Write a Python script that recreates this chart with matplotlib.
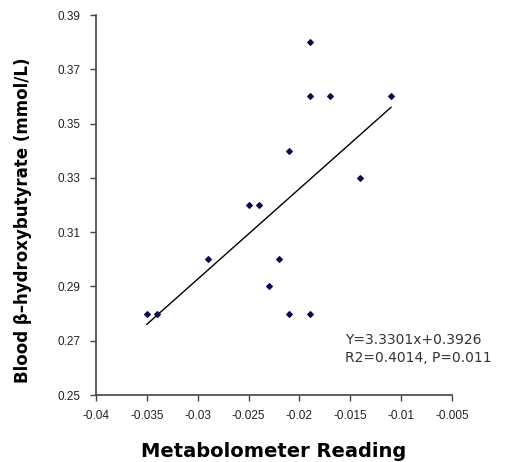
import numpy as np
import matplotlib
matplotlib.use("Agg")
import matplotlib.pyplot as plt

# readings (x) and blood beta-hydroxybutyrate (y)
meter = [-0.035, -0.034, -0.029, -0.025, -0.024, -0.023, -0.022, -0.021,
         -0.021, -0.019, -0.019, -0.019, -0.017, -0.014, -0.011]
bhb = [0.28, 0.28, 0.30, 0.32, 0.32, 0.29, 0.30, 0.34,
       0.28, 0.38, 0.36, 0.28, 0.36, 0.33, 0.36]
slope, intercept = 3.3301, 0.3926
xticks = [-0.04, -0.035, -0.03, -0.025, -0.02, -0.015, -0.01, -0.005]
yticks = [0.25, 0.27, 0.29, 0.31, 0.33, 0.35, 0.37, 0.39]

fig = plt.figure(figsize=(5.2, 4.62), dpi=100)
ax = fig.add_axes([0.1846, 0.145, 0.6846, 0.8225])

ax.scatter(meter, bhb, marker='D', s=8, color='#0a0a50', zorder=3)
xs = np.array([min(meter), max(meter)])
ax.plot(xs, slope * xs + intercept, color='black', lw=1.0)

ax.set_xlim(-0.04, -0.005)
ax.set_ylim(0.25, 0.39)
ax.set_xticks(xticks)
ax.set_xticklabels([str(t) for t in xticks])
ax.set_yticks(yticks)
ax.set_yticklabels([f"{t:.2f}" for t in yticks])

for lab in ax.get_xticklabels() + ax.get_yticklabels():
    lab.set_family('Liberation Sans')
    lab.set_fontsize(8.5)
    lab.set_color('#222222')

ax.tick_params(direction='out', length=4, width=1, color='#444444', pad=7)
for s in ['top', 'right']:
    ax.spines[s].set_visible(False)
for s in ['left', 'bottom']:
    ax.spines[s].set_color('#444444')
    ax.spines[s].set_linewidth(1.2)

ax.set_ylabel("Blood β–hydroxybutyrate (mmol/L)", fontsize=12,
              fontweight='heavy', family='DejaVu Sans')
ax.yaxis.set_label_coords(-0.18, 0.46)
ax.set_xlabel("Metabolometer Reading", fontsize=14, fontweight='heavy',
              family='DejaVu Sans', labelpad=14)

ax.text(-0.0155, 0.267, "Y=3.3301x+0.3926\nR2=0.4014, P=0.011",
        fontsize=10, color='#333333', linespacing=1.3, va='center')

fig.savefig("out.png", dpi=100)
